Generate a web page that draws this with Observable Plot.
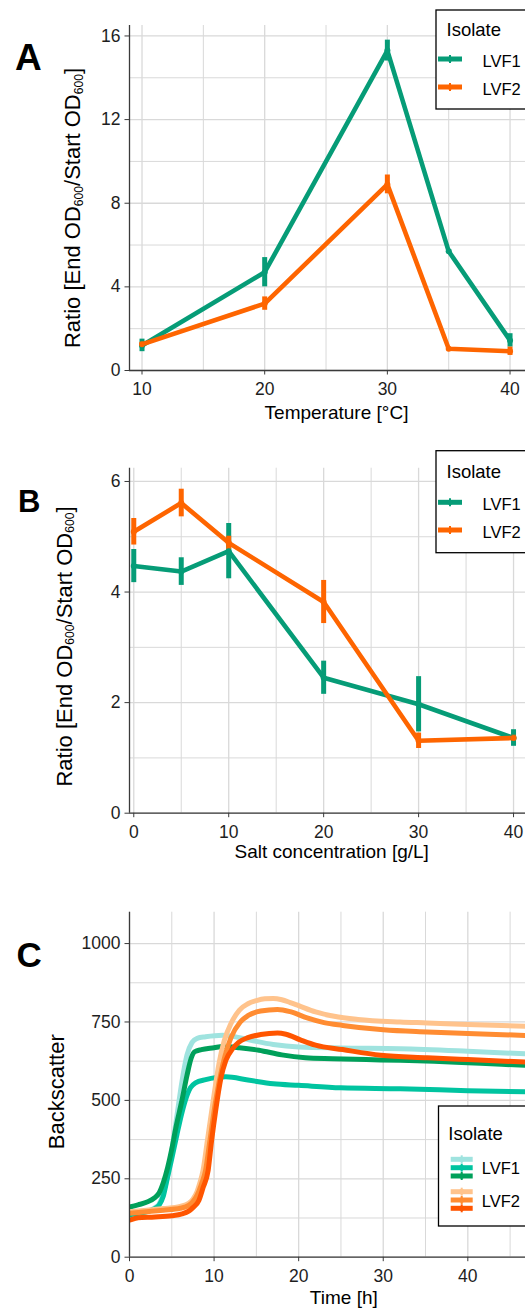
<!DOCTYPE html>
<html><head><meta charset="utf-8">
<script src="https://cdn.jsdelivr.net/npm/d3@7"></script>
<script src="https://cdn.jsdelivr.net/npm/@observablehq/plot@0.6"></script>
<style>
html,body{margin:0;padding:0;background:#fff;}
body{width:525px;height:1309px;overflow:hidden;}
#chart svg{display:block;}
</style></head><body><div id="chart"></div>
<script>
// ---------- Panel A: temperature ----------
const tempX = [10, 20, 30, 35, 40];
const tempLVF1 = [1.2, 4.7, 15.3, 5.7, 1.44];
const tempLVF1Err = [0.3, 0.7, 0.5, 0.08, 0.32];
const tempLVF2 = [1.25, 3.2, 8.9, 1.04, 0.92];
const tempLVF2Err = [0.1, 0.32, 0.45, 0.06, 0.2];
const tempXTicks = [10, 20, 30, 40];
const tempXMinor = [15, 25, 35];
const tempYTicks = [0, 4, 8, 12, 16];
const tempYMinor = [2, 6, 10, 14];

// ---------- Panel B: salt ----------
const saltX = [0, 5, 10, 20, 30, 40];
const saltLVF1 = [4.47, 4.37, 4.74, 2.45, 1.97, 1.36];
const saltLVF1Err = [0.3, 0.25, 0.5, 0.3, 0.5, 0.15];
const saltLVF2 = [5.09, 5.61, 4.89, 3.82, 1.31, 1.36];
const saltLVF2Err = [0.24, 0.25, 0.12, 0.39, 0.14, 0.05];
const saltXTicks = [0, 10, 20, 30, 40];
const saltXMinor = [5, 15, 25, 35];
const saltYTicks = [0, 2, 4, 6];
const saltYMinor = [1, 3, 5];

// ---------- Panel C: backscatter growth curves ----------
const c1aTime = [0,1,2,3,3.5,4,4.5,5,5.6,6.2,6.8,7.4,8,9,11,13,15,17,20,25,32,40,47];
const c1aValue = [130,138,146,158,170,205,260,340,450,560,645,685,698,703,708,700,688,678,670,667,665,657,648];
const c1bTime = [0,1,2,3,3.5,4,4.5,5,5.6,6.1,6.6,7.2,7.8,9,11.4,14,17,20,25,32,40,47];
const c1bValue = [135,140,145,155,166,195,255,315,390,450,500,540,556,566,575,565,553,548,540,537,531,527];
const c1cTime = [0,1,2,3,3.5,4,4.5,5,5.5,6.2,6.8,7.3,7.7,8.5,10,11,13,15.3,18,20.8,24,28,32,36,40,44,47];
const c1cValue = [160,167,175,190,205,238,285,345,415,500,580,635,655,662,668,672,668,660,645,636,633,630,628,625,620,615,612];
const c2aTime = [0,2,4,6,7,7.5,8,8.3,8.7,9.2,9.9,10.6,11.2,12,13,14,15,16,17,18,19,20,22,24.2,27,32,35.2,40,47];
const c2aValue = [145,150,155,162,172,185,210,235,277,370,500,620,690,745,788,808,818,824,825,821,812,802,782,768,758,750,747,742,736];
const c2bTime = [0,2,4,6,7,7.5,8,8.5,9,9.5,10.2,11,12,13.1,14,15.5,17.5,19,21,23,25.2,30,35.2,40,47];
const c2bValue = [140,145,150,156,165,177,198,232,277,370,500,610,700,750,770,785,790,783,763,748,739,725,718,713,707];
const c2cTime = [0,0.5,1,3,5,6.2,7,7.5,8.2,8.7,9.3,9.7,10.2,10.8,11.4,12.2,12.9,14,15.5,17.5,18.5,20.2,22,25.2,29.7,35.2,40,47];
const c2cValue = [118,122,126,128,132,138,147,158,181,222,277,370,470,570,628,665,685,700,710,715,711,693,676,662,644,636,630,622];
const cXTicks = [0, 10, 20, 30, 40];
const cXMinor = [5, 15, 25, 35, 45];
const cYTicks = [0, 250, 500, 750, 1000];
const cYMinor = [125, 375, 625, 875];

const seriesNames = ["LVF1", "LVF2"];
const seriesColors = ["#069c77", "#fe6500"];
const cNames = ["LVF1 a", "LVF1 b", "LVF1 c", "LVF2 a", "LVF2 b", "LVF2 c"];
const cColors = ["#9fe3df", "#00c4a0", "#00a05a", "#ffc38c", "#ff8c32", "#ff5500"];

const FONT = "'Liberation Sans', Arial, Helvetica, sans-serif";
const GRID = "#d9d9d9";
const AXIS = "#3a3a3a";

function table(xs, ys, es, name) {
  return xs.map((x, i) => ({x, y: ys[i], e: es[i], s: name}));
}
const tempData = [...table(tempX, tempLVF1, tempLVF1Err, "LVF1"), ...table(tempX, tempLVF2, tempLVF2Err, "LVF2")];
const saltData = [...table(saltX, saltLVF1, saltLVF1Err, "LVF1"), ...table(saltX, saltLVF2, saltLVF2Err, "LVF2")];
const cSeries = [[c1aTime, c1aValue], [c1bTime, c1bValue], [c1cTime, c1cValue], [c2aTime, c2aValue], [c2bTime, c2bValue], [c2cTime, c2cValue]];
const cData = cSeries.flatMap(([t, v], k) => t.map((tt, i) => ({x: tt, y: v[i], s: cNames[k]})));

const fmt = d => String(d);

function basePanel({height, mt, mb, xDomain, yDomain, xTicks, xMinor, yTicks, yMinor, marks, color}) {
  return Plot.plot({
    width: 525, height, marginTop: mt, marginBottom: mb, marginLeft: 129, marginRight: 0,
    style: {fontFamily: FONT, fontSize: "17.5px", color: "#1e1e1e", background: "#fff", overflow: "visible"},
    x: {domain: xDomain},
    y: {domain: yDomain},
    color,
    marks: [
      Plot.gridX(xMinor, {stroke: GRID, strokeOpacity: 1, strokeWidth: 1}),
      Plot.gridY(yMinor, {stroke: GRID, strokeOpacity: 1, strokeWidth: 1}),
      Plot.gridX(xTicks, {stroke: GRID, strokeOpacity: 1, strokeWidth: 1.3}),
      Plot.gridY(yTicks, {stroke: GRID, strokeOpacity: 1, strokeWidth: 1.3}),
      ...marks,
      Plot.ruleX([xDomain[0]], {stroke: AXIS, strokeWidth: 1.3}),
      Plot.ruleY([yDomain[0]], {stroke: AXIS, strokeWidth: 1.3}),
      Plot.axisX(xTicks, {tickSize: 4.5, tickPadding: 8, label: null, stroke: AXIS, tickFormat: fmt}),
      Plot.axisY(yTicks, {tickSize: 4.5, tickPadding: 4.5, label: null, stroke: AXIS, tickFormat: fmt})
    ]
  });
}

function errorPanelMarks(data) {
  return [
    Plot.ruleX(data, {x: "x", y1: d => d.y - d.e, y2: d => d.y + d.e, stroke: "s", strokeWidth: 5, strokeLinecap: "butt"}),
    Plot.line(data, {x: "x", y: "y", z: "s", stroke: "s", strokeWidth: 4.6, strokeLinejoin: "round"}),
    Plot.dot(data, {x: "x", y: "y", fill: "s", r: 3})
  ];
}

function addText(svg, {x, y, text, size, weight = "normal", anchor = "start", rotate = false, parts = null}) {
  const t = d3.select(svg).append("text")
    .attr("transform", rotate ? `translate(${x},${y}) rotate(-90)` : `translate(${x},${y})`)
    .attr("text-anchor", anchor)
    .attr("fill", "#000")
    .style("font-family", FONT)
    .style("font-size", size + "px")
    .style("font-weight", weight);
  if (parts) {
    let prevSub = false;
    parts.forEach(([s, sub]) => {
      const sp = t.append("tspan").text(s);
      if (sub) { sp.style("font-size", (size * 0.55) + "px").attr("dy", 2.6); }
      else if (prevSub) { sp.attr("dy", -2.6); }
      prevSub = !!sub;
    });
  } else {
    t.text(text);
  }
  return t;
}

const yRatioParts = [["Ratio [End OD"], ["600", true], ["/Start OD"], ["600", true], ["]"]];

function legend(svg, {bx, by, bh, titleX, titleY, rows, keyX1, keyX2, textX, keyW}) {
  const g = d3.select(svg).append("g");
  g.append("rect").attr("x", bx).attr("y", by).attr("width", 200).attr("height", bh)
    .attr("fill", "#fff").attr("stroke", "#000").attr("stroke-width", 1.3);
  addText(svg, {x: titleX, y: titleY, text: "Isolate", size: 18.5});
  rows.forEach(r => {
    r.keys.forEach(k => {
      g.append("line").attr("x1", keyX1).attr("x2", keyX2).attr("y1", k.y).attr("y2", k.y)
        .attr("stroke", k.c).attr("stroke-width", keyW);
      const mx = (keyX1 + keyX2) / 2;
      g.append("line").attr("x1", mx).attr("x2", mx).attr("y1", k.y - 4).attr("y2", k.y + 4)
        .attr("stroke", k.c).attr("stroke-width", 2);
      g.append("circle").attr("cx", mx).attr("cy", k.y).attr("r", 2.6).attr("fill", k.c);
    });
    addText(svg, {x: textX, y: r.textY, text: r.label, size: 16.5});
  });
}

const chart = document.getElementById("chart");

// ---- Panel A ----
const svgA = basePanel({
  height: 430, mt: 25, mb: 60, xDomain: [8.98, 41.26], yDomain: [0, 16.5],
  xTicks: tempXTicks, xMinor: tempXMinor, yTicks: tempYTicks, yMinor: tempYMinor,
  color: {domain: seriesNames, range: seriesColors},
  marks: errorPanelMarks(tempData)
});
addText(svgA, {x: 15, y: 70, text: "A", size: 37, weight: "bold"});
addText(svgA, {x: 80, y: 208, size: 22, anchor: "middle", rotate: true, parts: yRatioParts});
addText(svgA, {x: 336.5, y: 419, text: "Temperature [°C]", size: 19, anchor: "middle"});
legend(svgA, {bx: 436, by: 10, bh: 99, titleX: 446.5, titleY: 36, keyX1: 438, keyX2: 462, textX: 482.5, keyW: 5,
  rows: [{label: "LVF1", textY: 67, keys: [{y: 59, c: seriesColors[0]}]},
         {label: "LVF2", textY: 95, keys: [{y: 87, c: seriesColors[1]}]}]});
chart.appendChild(svgA);

// ---- Panel B ----
const svgB = basePanel({
  height: 450, mt: 37.7, mb: 67.3, xDomain: [-0.45, 41.26], yDomain: [0, 6.24],
  xTicks: saltXTicks, xMinor: saltXMinor, yTicks: saltYTicks, yMinor: saltYMinor,
  color: {domain: seriesNames, range: seriesColors},
  marks: errorPanelMarks(saltData)
});
addText(svgB, {x: 18, y: 81.7, text: "B", size: 31, weight: "bold"});
addText(svgB, {x: 71.7, y: 216.5, size: 22, anchor: "middle", rotate: true, parts: yRatioParts});
addText(svgB, {x: 331.7, y: 428, text: "Salt concentration [g/L]", size: 19, anchor: "middle"});
legend(svgB, {bx: 436, by: 20.7, bh: 102, titleX: 446.5, titleY: 48.3, keyX1: 438, keyX2: 462, textX: 482.5, keyW: 5,
  rows: [{label: "LVF1", textY: 80.3, keys: [{y: 72.3, c: seriesColors[0]}]},
         {label: "LVF2", textY: 108, keys: [{y: 100, c: seriesColors[1]}]}]});
chart.appendChild(svgB);

// ---- Panel C ----
const svgC = basePanel({
  height: 429, mt: 31.7, mb: 52.3, xDomain: [0, 46.82], yDomain: [0, 1100],
  xTicks: cXTicks, xMinor: cXMinor, yTicks: cYTicks, yMinor: cYMinor,
  color: {domain: cNames, range: cColors},
  marks: [
    Plot.line(cData, {x: "x", y: "y", z: "s", stroke: "s", strokeWidth: 5, curve: "monotone-x", clip: true})
  ]
});
addText(svgC, {x: 16.5, y: 87.3, text: "C", size: 35, weight: "bold"});
addText(svgC, {x: 64, y: 211.7, text: "Backscatter", size: 22, anchor: "middle", rotate: true});
addText(svgC, {x: 343.8, y: 424, text: "Time [h]", size: 19, anchor: "middle"});
legend(svgC, {bx: 438.5, by: 226, bh: 120, titleX: 448.3, titleY: 260, keyX1: 450.7, keyX2: 472.7, textX: 481.7, keyW: 5,
  rows: [{label: "LVF1", textY: 294, keys: [{y: 279.3, c: cColors[0]}, {y: 287.7, c: cColors[1]}, {y: 296, c: cColors[2]}]},
         {label: "LVF2", textY: 326.5, keys: [{y: 311.7, c: cColors[3]}, {y: 320, c: cColors[4]}, {y: 328.3, c: cColors[5]}]}]});
chart.appendChild(svgC);
</script>
</body></html>
